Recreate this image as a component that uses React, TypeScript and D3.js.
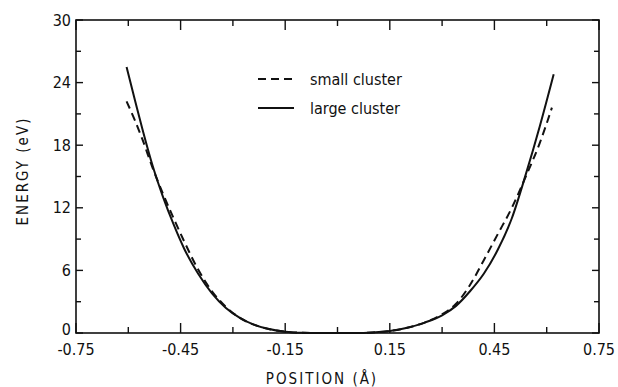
import React from "react";
import * as d3 from "d3";

const xTicksMajor = [-0.75, -0.45, -0.15, 0.15, 0.45, 0.75];
const xTickLabels = ["-0.75", "-0.45", "-0.15", "0.15", "0.45", "0.75"];
const xTicksMinor = [-0.6, -0.3, 0, 0.3, 0.6];
const yTicksMajor = [0, 6, 12, 18, 24, 30];
const yTicksMinor = [3, 9, 15, 21, 27];

const largeX = [-0.605, -0.58, -0.56, -0.53, -0.5, -0.47, -0.44, -0.4, -0.36, -0.32, -0.28, -0.24, -0.2, -0.15, -0.1, -0.05, 0, 0.05, 0.1, 0.15, 0.2, 0.25, 0.3, 0.34, 0.38, 0.42, 0.46, 0.5, 0.54, 0.58, 0.62];
const largeE = [25.5, 22.2, 19.6, 16.0, 13.0, 10.4, 8.1, 5.7, 3.8, 2.4, 1.45, 0.8, 0.4, 0.12, 0.02, 0, 0, 0, 0.05, 0.2, 0.5, 1.0, 1.7, 2.6, 4.0, 5.7, 8.0, 11.0, 15.2, 19.8, 24.8];

const smallX = [-0.605, -0.58, -0.56, -0.53, -0.5, -0.47, -0.44, -0.4, -0.36, -0.32, -0.28, -0.24, -0.2, -0.15, -0.1, -0.05, 0, 0.05, 0.1, 0.15, 0.2, 0.25, 0.3, 0.34, 0.38, 0.42, 0.46, 0.5, 0.54, 0.58, 0.615];
const smallE = [22.2, 20.3, 18.6, 15.8, 13.3, 11.0, 8.8, 6.1, 4.0, 2.5, 1.45, 0.8, 0.4, 0.12, 0.02, 0, 0, 0, 0.05, 0.2, 0.5, 1.0, 1.8, 2.8, 4.6, 7.0, 9.5, 12.0, 15.0, 18.2, 21.6];

const legendLabels = ["small cluster", "large cluster"];

const FONT = "'DejaVu Sans Condensed', 'Liberation Sans Narrow', 'DejaVu Sans', sans-serif";

export default function App() {
  const W = 618, H = 387;
  const left = 76, right = 599, top = 20, bottom = 333;
  const x = d3.scaleLinear().domain([-0.75, 0.75]).range([left, right]);
  const y = d3.scaleLinear().domain([0, 30]).range([bottom, top]);

  const line = d3.line<[number, number]>()
    .x((d) => x(d[0]))
    .y((d) => y(d[1]))
    .curve(d3.curveMonotoneX);

  const largePts: [number, number][] = largeX.map((v, i) => [v, largeE[i]]);
  const smallPts: [number, number][] = smallX.map((v, i) => [v, smallE[i]]);

  const stroke = "#111";
  return (
    <svg width={W} height={H} style={{ position: "absolute", left: 0, top: 0, background: "#fff" }} fontFamily={FONT}>
      <rect x={0} y={0} width={W} height={H} fill="#fff" />
      <rect x={left} y={top} width={right - left} height={bottom - top} fill="none" stroke={stroke} strokeWidth={1.6} />
      {xTicksMajor.map((t) => (
        <g key={"xm" + t}>
          <line x1={x(t)} x2={x(t)} y1={bottom} y2={bottom - 10} stroke={stroke} strokeWidth={1.4} />
          <line x1={x(t)} x2={x(t)} y1={top} y2={top + 10} stroke={stroke} strokeWidth={1.4} />
        </g>
      ))}
      {xTicksMinor.map((t) => (
        <g key={"xn" + t}>
          <line x1={x(t)} x2={x(t)} y1={bottom} y2={bottom - 6} stroke={stroke} strokeWidth={1.4} />
          <line x1={x(t)} x2={x(t)} y1={top} y2={top + 6} stroke={stroke} strokeWidth={1.4} />
        </g>
      ))}
      {yTicksMajor.map((t) => (
        <g key={"ym" + t}>
          <line x1={left} x2={left + 7} y1={y(t)} y2={y(t)} stroke={stroke} strokeWidth={1.4} />
          <line x1={right} x2={right - 7} y1={y(t)} y2={y(t)} stroke={stroke} strokeWidth={1.4} />
        </g>
      ))}
      {yTicksMinor.map((t) => (
        <g key={"yn" + t}>
          <line x1={left} x2={left + 5} y1={y(t)} y2={y(t)} stroke={stroke} strokeWidth={1.4} />
          <line x1={right} x2={right - 5} y1={y(t)} y2={y(t)} stroke={stroke} strokeWidth={1.4} />
        </g>
      ))}
      {xTicksMajor.map((t, i) => (
        <text key={"xl" + t} x={x(t)} y={355} textAnchor="middle" fontSize={16} fill={stroke}>
          {xTickLabels[i]}
        </text>
      ))}
      {yTicksMajor.map((t) => (
        <text key={"yl" + t} x={71} y={t === 0 ? y(t) - 4 : y(t)} dy="0.35em" textAnchor="end" fontSize={16} fill={stroke}>
          {String(t)}
        </text>
      ))}
      <text x={322} y={384} textAnchor="middle" fontSize={15} letterSpacing={2} fill={stroke}>
        POSITION (Å)
      </text>
      <text transform={`translate(28,171) rotate(-90)`} textAnchor="middle" fontSize={15} letterSpacing={2} fill={stroke}>
        ENERGY (eV)
      </text>
      <path d={line(smallPts) || ""} fill="none" stroke={stroke} strokeWidth={2} strokeDasharray="8,5" />
      <path d={line(largePts) || ""} fill="none" stroke={stroke} strokeWidth={2} />
      <line x1={258} x2={294} y1={79} y2={79} stroke={stroke} strokeWidth={2} strokeDasharray="8,5" />
      <text x={310} y={79} dy="0.35em" fontSize={16} fill={stroke}>{legendLabels[0]}</text>
      <line x1={258} x2={294} y1={108} y2={108} stroke={stroke} strokeWidth={2} />
      <text x={310} y={108} dy="0.35em" fontSize={16} fill={stroke}>{legendLabels[1]}</text>
    </svg>
  );
}
